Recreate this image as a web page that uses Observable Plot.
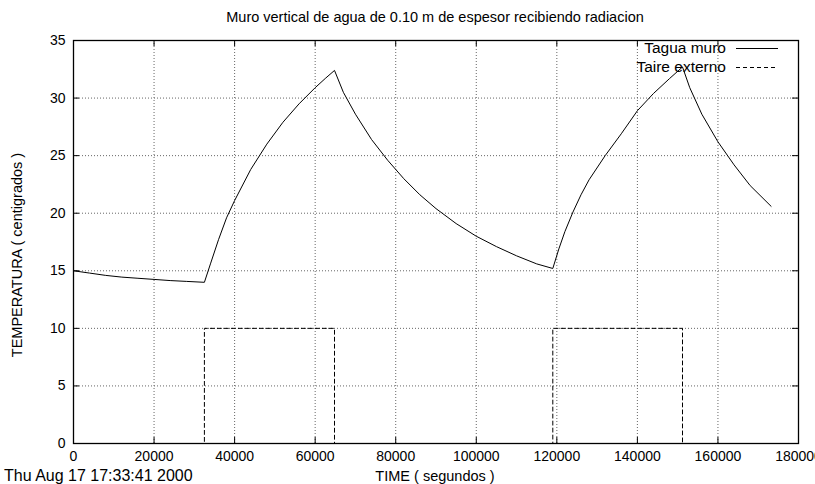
<!DOCTYPE html>
<html><head><meta charset="utf-8">
<script src="https://cdn.jsdelivr.net/npm/d3@7"></script>
<script src="https://cdn.jsdelivr.net/npm/@observablehq/plot@0.6"></script>
<style>
body{margin:0;background:#fff;font-family:"Liberation Sans",Arial,sans-serif;}
#wrap{position:relative;width:815px;height:484px;overflow:hidden;background:#fff}
#wrap > svg{position:absolute;left:0;top:0}
.t{position:absolute;font-size:14.5px;color:#000;white-space:nowrap;line-height:1}
#legend{position:absolute;right:37px;top:38px;font-size:15.5px;line-height:19px}
#legend div{display:flex;align-items:center;justify-content:flex-end}
#legend svg{margin-left:10px}
</style></head><body>
<div id="wrap">
  <div class="t" style="left:435px;top:10px;transform:translateX(-50%)">Muro vertical de agua de 0.10 m de espesor recibiendo radiacion</div>
  <div class="t" style="left:4px;top:468px;font-size:16px">Thu Aug 17 17:33:41 2000</div>
  <div class="t" style="left:435px;top:469px;transform:translateX(-50%)">TIME ( segundos )</div>
  <div class="t" style="left:17px;top:255px;transform:translate(-50%,-50%) rotate(-90deg)">TEMPERATURA ( centigrados )</div>
</div>
<script>
// Tagua muro (water wall temperature)
const tAgua = [0,4000,8000,12000,16000,20000,24000,28000,32500,
  34000,36000,38000,40000,44000,48000,52000,56000,60000,62500,64800,
  67000,70000,74000,78000,82000,86000,90000,95000,100000,105000,110000,115000,119000,
  120500,122000,124000,126000,128000,132000,136000,140000,144000,148000,151200,
  153000,156000,160000,164000,168000,173200];
const vAgua = [15.0,14.8,14.6,14.45,14.35,14.25,14.15,14.08,14.0,
  15.6,17.7,19.6,21.1,23.8,26.0,27.9,29.5,30.9,31.7,32.4,
  30.5,28.6,26.4,24.6,23.0,21.6,20.4,19.1,18.0,17.1,16.3,15.6,15.2,
  16.9,18.4,20.1,21.6,22.9,25.0,26.9,28.9,30.4,31.7,32.7,
  30.9,28.6,26.2,24.2,22.4,20.6];
// Taire externo (external air temperature)
const tAire = [0,32500,32500,64800,64800,119000,119000,151200,151200,173200];
const vAire = [0,0,10,10,0,0,10,10,0,0];
const xTicks = [0,20000,40000,60000,80000,100000,120000,140000,160000,180000];
const yTicks = [0,5,10,15,20,25,30,35];
const seriesNames = ["Tagua muro","Taire externo"];

const agua = tAgua.map((t,i)=>({t, v:vAgua[i]}));
const aire = tAire.map((t,i)=>({t, v:vAire[i]}));
const innerX = xTicks.slice(1,-1), innerY = yTicks.slice(1,-1);
const grid = {stroke:"#666", strokeOpacity:1, strokeDasharray:"1,2", strokeWidth:1};

const chart = Plot.plot({
  width: 815, height: 484,
  marginTop: 40, marginBottom: 41, marginLeft: 73, marginRight: 17,
  x: {domain:[0,180000]},
  y: {domain:[0,35]},
  style: {fontFamily:"'Liberation Sans', Arial, sans-serif", fontSize:"14px", color:"#000", background:"transparent", overflow:"visible"},
  marks: [
    Plot.gridX(innerX, grid),
    Plot.gridY(innerY, grid),
    Plot.ruleX(xTicks, {stroke:"#000", insetTop:397}),
    Plot.ruleX(xTicks, {stroke:"#000", insetBottom:397}),
    Plot.ruleY(yTicks, {stroke:"#000", insetRight:719}),
    Plot.ruleY(yTicks, {stroke:"#000", insetLeft:719}),
    Plot.axisX(xTicks, {tickSize:0, tickPadding:8, tickFormat:d=>String(d), fontSize:14, label:null}),
    Plot.axisY(yTicks, {tickSize:0, tickPadding:8, tickFormat:d=>String(d), fontSize:14, label:null}),
    Plot.line(aire, {x:"t", y:"v", stroke:"#000", strokeWidth:1, strokeDasharray:"4,3"}),
    Plot.line(agua, {x:"t", y:"v", stroke:"#000", strokeWidth:1}),
    Plot.frame({stroke:"#000", strokeWidth:1.3})
  ]
});
const wrap = document.getElementById("wrap");
wrap.insertBefore(chart, wrap.firstChild);

const legend = document.createElement("div");
legend.id = "legend";
seriesNames.forEach((name,i)=>{
  const row = document.createElement("div");
  const span = document.createElement("span"); span.textContent = name;
  row.appendChild(span);
  const svg = d3.create("svg").attr("width",42).attr("height",10);
  svg.append("line").attr("x1",0).attr("x2",42).attr("y1",5.5).attr("y2",5.5)
    .attr("stroke","#000").attr("stroke-width",1)
    .attr("stroke-dasharray", i===1 ? "4,3" : null);
  row.appendChild(svg.node());
  legend.appendChild(row);
});
wrap.appendChild(legend);
</script>
</body></html>
